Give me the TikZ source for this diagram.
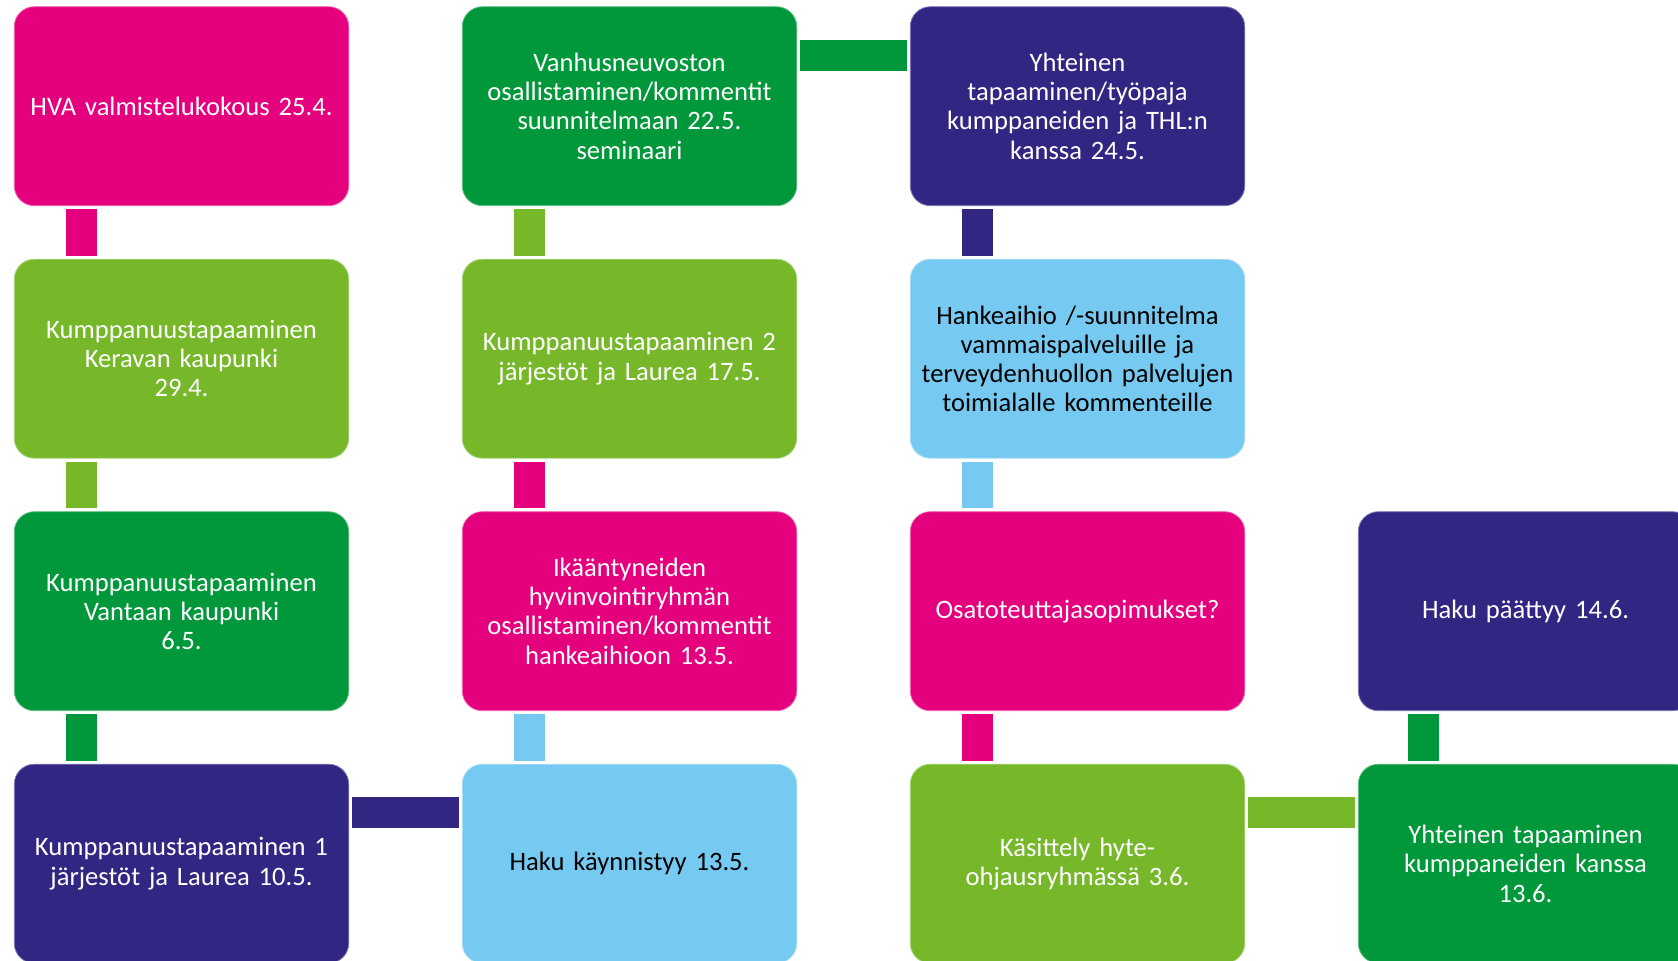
\documentclass[tikz,border=0pt]{standalone}
\usepackage{fontspec}
\setmainfont{Carlito}
\definecolor{cMag}{HTML}{E5007E}
\definecolor{cGrn}{HTML}{00983A}
\definecolor{cLime}{HTML}{76B82A}
\definecolor{cNavy}{HTML}{312783}
\definecolor{cSky}{HTML}{76CAF1}
\tikzset{
  box/.style={rounded corners=10pt, minimum width=167.25pt, minimum height=99.5pt,
    inner sep=0pt, align=center, text width=164pt,
    font=\fontsize{13.3pt}{14.6pt}\selectfont, text=white, fill=#1, draw=white!40!#1, line width=0.4pt},
  darkbox/.style={box=#1, text=black},
  conn/.style={draw=#1, line width=15.5pt, line cap=butt},
}
\begin{document}
\begin{tikzpicture}[x=0.5pt,y=-0.5pt]
\useasboundingbox (0,0) rectangle (1678,960);
\clip (0,0) rectangle (1678,960);
% column 1
\node[box=cMag]  (a1) at (181.5,106.2) {HVA valmistelukokous 25.4.};
\node[box=cLime] (a2) at (181.5,358.7) {Kumppanuustapaaminen\\Keravan kaupunki\\29.4.};
\node[box=cGrn]  (a3) at (181.5,611.2) {Kumppanuustapaaminen\\Vantaan kaupunki\\6.5.};
\node[box=cNavy] (a4) at (181.5,863.7) {Kumppanuustapaaminen 1\\järjestöt ja Laurea 10.5.};
% column 2
\node[box=cGrn]  (b1) at (629.5,106.2) {Vanhusneuvoston\\osallistaminen/kommentit\\suunnitelmaan 22.5.\\seminaari};
\node[box=cLime] (b2) at (629.5,358.7) {Kumppanuustapaaminen 2\\järjestöt ja Laurea 17.5.};
\node[box=cMag]  (b3) at (629.5,611.2) {Ikääntyneiden\\hyvinvointiryhmän\\osallistaminen/kommentit\\hankeaihioon 13.5.};
\node[darkbox=cSky] (b4) at (629.5,863.7) {Haku käynnistyy 13.5.};
% column 3
\node[box=cNavy] (c1) at (1077.5,106.2) {Yhteinen\\tapaaminen/työpaja\\kumppaneiden ja THL:n\\kanssa 24.5.};
\node[darkbox=cSky] (c2) at (1077.5,358.7) {Hankeaihio /-suunnitelma\\vammaispalveluille ja\\terveydenhuollon palvelujen\\toimialalle kommenteille};
\node[box=cMag]  (c3) at (1077.5,611.2) {Osatoteuttajasopimukset?};
\node[box=cLime] (c4) at (1077.5,863.7) {Käsittely hyte-\\ohjausryhmässä 3.6.};
% column 4
\node[box=cNavy] (d3) at (1525.5,611.2) {Haku päättyy 14.6.};
\node[box=cGrn]  (d4) at (1525.5,863.7) {Yhteinen tapaaminen\\kumppaneiden kanssa\\13.6.};
% vertical connectors
\draw[conn=cMag]  ([xshift=33.6pt,yshift=-1.5pt]a1.south west) -- ([xshift=33.6pt,yshift=1.5pt]a2.north west);
\draw[conn=cLime] ([xshift=33.6pt,yshift=-1.5pt]a2.south west) -- ([xshift=33.6pt,yshift=1.5pt]a3.north west);
\draw[conn=cGrn]  ([xshift=33.6pt,yshift=-1.5pt]a3.south west) -- ([xshift=33.6pt,yshift=1.5pt]a4.north west);
\draw[conn=cSky]  ([xshift=33.6pt,yshift=1.5pt]b4.north west) -- ([xshift=33.6pt,yshift=-1.5pt]b3.south west);
\draw[conn=cMag]  ([xshift=33.6pt,yshift=1.5pt]b3.north west) -- ([xshift=33.6pt,yshift=-1.5pt]b2.south west);
\draw[conn=cLime] ([xshift=33.6pt,yshift=1.5pt]b2.north west) -- ([xshift=33.6pt,yshift=-1.5pt]b1.south west);
\draw[conn=cNavy] ([xshift=33.6pt,yshift=-1.5pt]c1.south west) -- ([xshift=33.6pt,yshift=1.5pt]c2.north west);
\draw[conn=cSky]  ([xshift=33.6pt,yshift=-1.5pt]c2.south west) -- ([xshift=33.6pt,yshift=1.5pt]c3.north west);
\draw[conn=cMag]  ([xshift=33.6pt,yshift=-1.5pt]c3.south west) -- ([xshift=33.6pt,yshift=1.5pt]c4.north west);
\draw[conn=cGrn]  ([xshift=33pt,yshift=1.5pt]d4.north west) -- ([xshift=33pt,yshift=-1.5pt]d3.south west);
% horizontal connectors
\draw[conn=cNavy] ([xshift=1.25pt,yshift=-24.2pt]a4.north east) -- ([xshift=-1.25pt,yshift=-24.2pt]b4.north west);
\draw[conn=cGrn]  ([xshift=1.25pt,yshift=-24.4pt]b1.north east) -- ([xshift=-1.25pt,yshift=-24.4pt]c1.north west);
\draw[conn=cLime] ([xshift=1.25pt,yshift=-24.2pt]c4.north east) -- ([xshift=-1.25pt,yshift=-24.2pt]d4.north west);
\end{tikzpicture}
\end{document}
